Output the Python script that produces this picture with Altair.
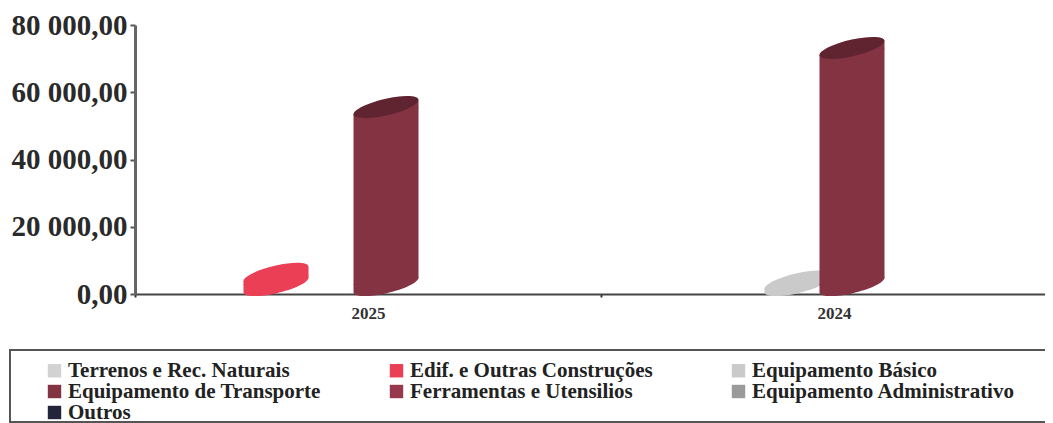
import altair as alt
import pandas as pd

years = ["2025", "2024"]
series = ["Terrenos e Rec. Naturais", "Edif. e Outras Construções", "Equipamento Básico",
          "Equipamento de Transporte", "Ferramentas e Utensilios", "Equipamento Administrativo", "Outros"]
colors = ["#d2d2d2", "#ea3f55", "#cacaca", "#843343", "#97384e", "#9a9a9a", "#23263a"]
values_2025 = [0, 3300, 0, 52900, 0, 0, 0]
values_2024 = [0, 0, 1000, 70500, 0, 0, 0]
y_ticks = [0, 20000, 40000, 60000, 80000]

rows = []
for year, vals in zip(years, [values_2025, values_2024]):
    for s, v in zip(series, vals):
        rows.append({"year": year, "series": s, "v": v})
df = pd.DataFrame(rows)

SERIF = "Liberation Serif"
ELLIPSE = ("M1 -.22C1 -.364 .55 -.38 0 -.26C-.55 -.14 -1 .076 -1 .22"
           "C-1 .364 -.55 .38 0 .26C.55 .14 1 -.076 1 -.22Z")
CAP_BASE = ELLIPSE + "M-1 -.02L-1 .22L0 .22L0 -.02Z"
CAP_TOP = ELLIPSE + "M0 -.22L0 .02L1 .02L1 -.22Z"
MASK_TOP = "M-1.08 -.02L-.75 -.02L-.75 .22L-1.08 .22Z"
MASK_BASE = "M.75 -.22L1.08 -.22L1.08 .02L.75 .02Z"
SIZE = 4225
LIFT = -9

x = alt.X("year:N", sort=years, title=None,
          scale=alt.Scale(domain=years, range=[0, 932], paddingInner=0, paddingOuter=0),
          axis=alt.Axis(labelAngle=0, labelFont=SERIF, labelFontSize=17, labelFontWeight="bold",
                        labelColor="#333", domainColor="#444", domainWidth=2, tickColor="#333",
                        tickWidth=2, tickSize=3, tickBand="extent", labelPadding=8, grid=False))
xo = alt.XOffset("series:N", sort=series,
                 scale=alt.Scale(domain=series, range=[58.5, 443.5], paddingInner=0, paddingOuter=0))
y = alt.Y("v:Q", title=None,
          scale=alt.Scale(domain=[0, 80000], nice=False),
          axis=alt.Axis(values=y_ticks, grid=False, labelFont=SERIF, labelFontSize=29,
                        labelFontWeight="bold", labelColor="#2a2a2a", domainColor="#666",
                        domainWidth=3, tickColor="#555", tickWidth=2, tickSize=5, labelPadding=3,
                        labelExpr="replace(replace(format(datum.value, ',.2f'), /,/g, ' '), '.', ',')"))
col_scale = alt.Scale(domain=series, range=colors)
legend = alt.Legend(title=None, orient="none", legendX=-91, legendY=335, columns=3, direction="horizontal",
                    symbolType="square", symbolSize=180, symbolStrokeWidth=0, padding=0,
                    labelFont=SERIF, labelFontSize=21, labelFontWeight="bold", labelColor="#222",
                    labelLimit=400, gridAlign="all", columnPadding=54, rowPadding=-3, labelOffset=3)
color = alt.Color("series:N", sort=series, scale=col_scale, legend=legend)
zero = alt.Y(datum=0)

frame = alt.Chart(alt.Data(values=[{}])).mark_rect(fillOpacity=0, stroke="#555", strokeWidth=2).encode(
    x=alt.value(-125), x2=alt.value(925), y=alt.value(325), y2=alt.value(397))

layers = [frame]
for name in series:
    base = alt.Chart(df).transform_filter(alt.FieldEqualPredicate(field="series", equal=name)).transform_filter("datum.v > 0")

    def shape(path, y_enc, col, opacity=1):
        return base.mark_point(shape=path, filled=True, size=SIZE, yOffset=LIFT, opacity=opacity,
                               strokeWidth=0).encode(x=x, xOffset=xo, y=y_enc, color=col)

    layers += [
        base.mark_bar(width=65, yOffset=LIFT).encode(x=x, xOffset=xo, y=y, color=color),
        shape(MASK_BASE, zero, alt.value("#ffffff")),
        shape(CAP_BASE, zero, color),
        shape(MASK_TOP, y, alt.value("#ffffff")),
        shape(CAP_TOP, y, color),
        shape(ELLIPSE, y, alt.value("#000000"), 0.28).transform_filter("datum.v > 10000"),
    ]

chart = alt.layer(*layers).properties(
    width=910, height=269,
    padding={"left": 127, "top": 17, "right": 0, "bottom": 129},
    autosize=alt.AutoSizeParams(type="none"),
).configure_view(stroke=None)

chart.save("out.html", embed_options={"renderer": "svg", "actions": False})
